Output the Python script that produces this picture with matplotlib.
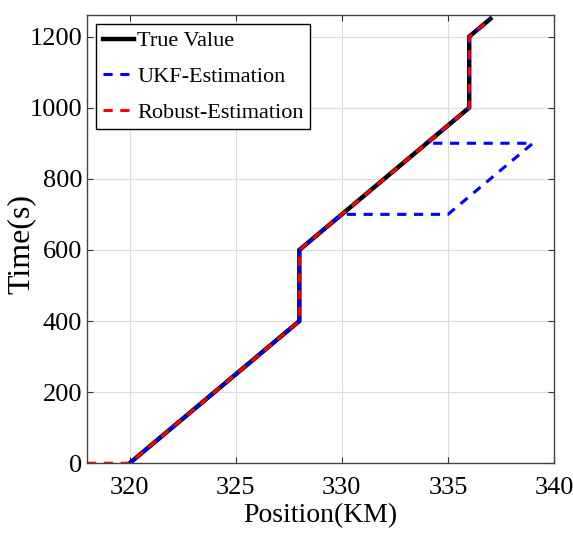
import matplotlib
matplotlib.use('Agg')
import matplotlib.pyplot as plt

# positions in km, times in s
true_pos = [320, 328, 328, 336, 336, 337]
true_time = [0, 400, 600, 1000, 1200, 1250]

ukf_pos = [320, 328, 328, 330, 335, 339, 334, 336, 336, 337]
ukf_time = [0, 400, 600, 700, 700, 900, 900, 1000, 1200, 1250]

robust_pos = [318, 320, 328, 328, 336, 336, 337]
robust_time = [0, 0, 400, 600, 1000, 1200, 1250]

xticks = [320, 325, 330, 335, 340]
yticks = [0, 200, 400, 600, 800, 1000, 1200]

plt.rcParams['font.family'] = ['Liberation Serif', 'DejaVu Serif']

fig = plt.figure(figsize=(5.73, 5.45), dpi=100)
ax = fig.add_axes([0.152, 0.150, 0.815, 0.822])

ax.plot(true_pos, true_time, color='black', lw=3.2, label='True Value')
ax.plot(ukf_pos, ukf_time, color='blue', lw=2.2, ls=(0, (3, 2.5)), label='UKF-Estimation')
ax.plot(robust_pos, robust_time, color='red', lw=2.2, ls=(0, (3, 2.5)), label='Robust-Estimation')

ax.set_xlim(318, 340)
ax.set_ylim(0, 1260)
ax.set_xticks(xticks)
ax.set_yticks(yticks)
ax.grid(True, color='#dcdcdc', lw=0.8)
ax.set_axisbelow(True)
ax.tick_params(direction='in', top=True, right=True, labelsize=19, length=4, color='#333333')
ax.tick_params(axis='x', pad=10)
for s in ax.spines.values():
    s.set_color('#444444')
    s.set_linewidth(1.0)

ax.set_xlabel('Position(KM)', fontsize=20, labelpad=3)
ax.set_ylabel('Time(s)', fontsize=23)
ax.yaxis.set_label_coords(-0.111, 0.49)

leg = ax.legend(loc='upper left', fontsize=16, handlelength=1.4, handletextpad=0.15,
                borderpad=0.3, labelspacing=0.68, borderaxespad=0.4, fancybox=False)
leg.get_frame().set_edgecolor('black')
leg.get_frame().set_linewidth(1.0)
leg.get_frame().set_alpha(1)

fig.savefig('out.png', dpi=100)
